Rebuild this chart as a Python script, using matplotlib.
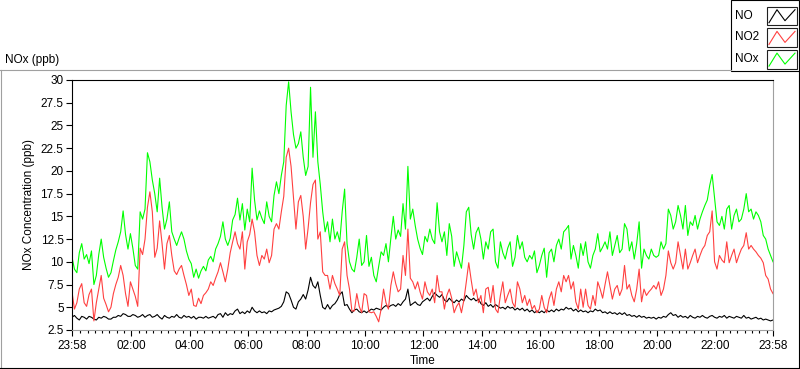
import numpy as np
import matplotlib.pyplot as plt
from matplotlib.lines import Line2D
from matplotlib.patches import Rectangle

plt.rcParams['font.family'] = ['Liberation Sans', 'DejaVu Sans']

# minutes after 23:58, one reading every 5 min
minutes = np.arange(0, 1441, 5)

no_ppb = [
    3.9, 4.1, 3.8, 3.6, 4.0, 3.9, 3.7, 4.0, 3.9, 3.7, 3.6, 3.9, 3.8, 4.0, 3.9, 3.7, 3.7, 3.9, 3.9, 4.1, 4.0, 4.3, 4.2, 4.0, 4.0,
    4.2, 4.1, 3.9, 4.0, 4.2, 3.9, 4.1, 4.2, 3.9, 4.0, 4.2, 3.9, 3.7, 4.1, 3.9, 3.8, 4.0, 3.9, 4.2, 3.9, 3.8, 4.1, 3.9, 4.0,
    3.8, 4.0, 3.7, 3.9, 3.9, 3.8, 4.0, 3.8, 3.9, 4.0, 3.8, 4.2, 4.3, 3.9, 4.4, 4.1, 4.3, 4.2, 4.6, 4.8, 4.3, 4.5, 4.3, 4.6,
    4.4, 5.0, 4.6, 4.4, 4.6, 4.4, 4.5, 4.3, 4.6, 4.5, 4.7, 4.8, 4.9, 5.1, 5.6, 6.7, 6.5, 5.8, 5.0, 4.8, 5.6, 5.9, 6.4, 5.9,
    6.9, 8.3, 7.4, 7.1, 7.8, 6.3, 5.0, 4.8, 5.3, 4.8, 5.2, 5.4, 5.8, 6.4, 6.7, 5.2, 5.3, 4.8, 4.4, 4.7, 4.8, 4.5, 4.4, 4.6,
    4.4, 4.6, 4.8, 4.7, 4.9, 4.8, 4.7, 5.0, 5.2, 5.0, 5.2, 5.3, 5.1, 5.4, 5.2, 5.6, 5.9, 7.0, 5.2, 5.4, 5.6, 5.3, 5.2, 5.6,
    5.8, 6.0, 5.7, 6.2, 6.6, 6.3, 6.1, 6.4, 5.8, 5.6, 6.0, 5.7, 5.5, 5.8, 5.6, 5.9, 5.7, 6.3, 6.0, 5.8, 6.0, 5.7, 5.9, 5.4,
    5.2, 5.5, 5.1, 5.3, 5.0, 5.3, 5.1, 4.9, 5.0, 4.8, 5.1, 4.9, 5.0, 4.7, 4.9, 4.7, 4.9, 4.6, 4.8, 4.5, 4.7, 4.4, 4.6, 4.4,
    4.6, 4.4, 4.7, 4.5, 4.7, 4.5, 4.8, 4.6, 4.8, 4.7, 5.0, 4.8, 4.9, 4.6, 4.8, 4.5, 4.7, 4.5, 4.6, 4.4, 4.6, 4.5, 4.8, 4.6,
    4.7, 4.4, 4.5, 4.3, 4.5, 4.3, 4.4, 4.2, 4.4, 4.2, 4.4, 4.1, 4.2, 4.0, 4.1, 3.9, 4.1, 3.9, 4.0, 3.8, 3.9, 3.8, 3.9, 3.7,
    3.9, 3.8, 4.0, 3.9, 4.2, 4.4, 4.1, 4.2, 3.9, 4.1, 3.9, 4.0, 3.8, 4.1, 3.9, 3.8, 4.0, 3.9, 4.1, 3.9, 3.8, 4.0, 4.1, 3.9,
    3.8, 4.0, 3.9, 4.1, 3.8, 4.0, 3.9, 3.8, 4.0, 3.9, 3.8, 4.1, 3.8, 3.9, 3.7, 3.8, 3.9, 3.7, 3.8, 3.6, 3.7, 3.6, 3.5, 3.6,
]

no2_ppb = [
    6.7, 4.8, 5.5, 7.0, 7.6, 5.5, 5.1, 6.4, 7.0, 3.5, 5.5, 7.0, 8.5, 6.0, 5.3, 4.5, 5.0, 6.5, 7.5, 8.3, 9.6, 8.5, 6.5, 5.1, 7.8,
    7.0, 6.2, 5.1, 11.5, 10.8, 12.5, 16.0, 17.7, 15.5, 10.5, 11.5, 14.5, 12.0, 9.2, 12.0, 12.9, 10.7, 9.0, 8.6, 9.2, 9.6, 8.5, 7.5, 6.3,
    7.0, 5.2, 5.1, 6.0, 5.4, 6.3, 6.6, 7.0, 7.8, 7.4, 8.2, 8.9, 9.9, 8.9, 7.8, 9.2, 11.0, 12.2, 13.3, 12.0, 11.4, 13.3, 9.2, 12.2,
    13.0, 14.7, 13.3, 10.7, 9.6, 10.7, 10.3, 11.4, 9.9, 10.7, 13.6, 14.2, 13.6, 15.5, 17.2, 21.5, 22.5, 20.5, 17.0, 13.6, 16.6, 17.3, 15.0, 11.4,
    13.7, 16.5, 18.5, 19.0, 12.5, 13.3, 8.9, 8.5, 8.5, 7.0, 8.5, 7.6, 7.0, 6.3, 11.4, 12.2, 8.5, 7.0, 4.6, 4.6, 6.5, 5.1, 4.4, 6.5,
    6.3, 4.5, 4.4, 4.5, 4.0, 3.4, 4.8, 7.0, 5.5, 4.8, 7.4, 8.9, 7.6, 6.7, 7.0, 10.7, 8.5, 13.6, 8.2, 7.8, 7.0, 7.8, 6.7, 5.9,
    7.8, 6.7, 6.3, 7.0, 5.5, 8.5, 6.7, 6.7, 4.8, 6.3, 7.0, 6.0, 4.4, 5.1, 5.5, 4.4, 5.8, 7.8, 9.9, 8.0, 6.3, 7.0, 5.5, 6.3,
    4.4, 7.0, 7.2, 5.5, 7.4, 4.8, 4.4, 6.3, 7.8, 5.5, 6.3, 7.0, 5.5, 5.0, 7.8, 7.0, 5.5, 6.3, 5.2, 5.9, 4.8, 5.2, 4.4, 4.8,
    6.3, 5.0, 4.4, 5.9, 6.7, 5.2, 7.0, 7.8, 6.7, 8.5, 7.8, 8.5, 7.0, 7.8, 5.6, 4.8, 7.0, 5.0, 7.0, 5.2, 4.8, 6.3, 5.2, 7.8,
    7.0, 6.0, 7.5, 8.9, 7.4, 5.9, 7.0, 7.4, 6.3, 7.0, 9.6, 7.0, 7.5, 6.3, 5.6, 7.0, 9.2, 5.6, 7.0, 6.3, 6.7, 7.0, 7.4, 7.0,
    7.8, 6.3, 7.0, 8.5, 11.2, 9.9, 9.2, 9.9, 12.2, 10.7, 9.2, 11.4, 9.2, 9.9, 10.7, 11.4, 9.9, 10.7, 11.4, 11.8, 12.9, 13.3, 15.6, 10.0,
    9.2, 10.7, 10.2, 9.9, 12.2, 9.9, 10.7, 11.4, 9.9, 10.7, 11.4, 11.8, 13.2, 11.4, 11.8, 11.4, 11.1, 10.7, 10.4, 9.9, 8.5, 8.1, 7.0, 6.5,
]

nox_ppb = [
    10.5, 9.2, 8.8, 11.0, 12.0, 10.3, 10.8, 9.8, 11.2, 7.5, 8.5, 10.8, 12.5, 10.5, 9.3, 8.3, 8.8, 10.1, 11.3, 12.2, 13.3, 15.6, 13.0, 11.4, 13.1,
    11.5, 9.6, 9.2, 15.5, 14.7, 15.8, 22.0, 21.0, 19.0, 17.5, 15.5, 19.2, 16.0, 13.6, 14.7, 16.6, 13.3, 12.5, 11.8, 12.6, 13.3, 12.5, 11.2, 10.3,
    9.8, 8.3, 9.2, 8.2, 9.0, 9.5, 9.0, 10.2, 10.6, 10.0, 11.4, 12.0, 12.8, 14.4, 12.5, 11.8, 12.6, 14.6, 15.2, 17.0, 14.6, 16.4, 13.5, 15.8,
    14.4, 20.3, 16.8, 14.6, 15.6, 14.8, 14.2, 16.6, 15.0, 14.4, 17.3, 18.8, 17.5, 19.5, 21.0, 27.2, 29.8, 26.5, 24.0, 22.5, 23.0, 24.3, 21.5, 19.5,
    20.5, 29.2, 21.5, 26.5, 21.0, 18.5, 15.5, 13.3, 14.4, 12.2, 14.7, 12.5, 13.3, 12.2, 15.5, 18.0, 12.0, 10.0, 9.2, 8.9, 10.5, 12.5, 9.6, 10.0,
    12.9, 9.5, 10.5, 8.5, 7.8, 9.5, 11.1, 10.7, 12.0, 10.0, 12.6, 15.0, 12.5, 13.5, 12.8, 16.4, 13.6, 20.5, 14.7, 15.8, 14.0, 12.5, 11.5, 10.8,
    12.8, 12.2, 13.6, 12.5, 12.0, 16.5, 13.3, 12.2, 13.3, 10.7, 14.2, 12.8, 9.5, 11.1, 10.2, 9.3, 11.8, 15.5, 16.0, 13.0, 11.4, 13.2, 13.8, 12.5,
    10.3, 12.2, 11.4, 13.3, 13.6, 10.0, 9.3, 12.2, 11.0, 10.3, 11.5, 12.2, 9.5, 10.5, 12.9, 11.4, 12.2, 10.5, 10.0, 10.7, 10.3, 11.2, 8.8, 9.6,
    10.7, 11.5, 8.3, 11.0, 11.4, 10.0, 11.8, 12.5, 11.4, 13.3, 13.6, 14.0, 10.3, 11.8, 10.7, 9.3, 12.0, 10.7, 12.2, 10.0, 9.3, 10.7, 11.4, 13.1,
    11.1, 11.6, 12.2, 11.4, 13.3, 10.7, 11.8, 12.9, 11.0, 11.4, 14.2, 13.6, 11.2, 12.2, 10.3, 12.0, 14.4, 9.3, 11.4, 10.7, 10.3, 11.4, 10.7, 10.5,
    10.7, 12.2, 11.4, 12.0, 15.8, 15.1, 13.6, 14.4, 16.2, 15.1, 13.6, 16.2, 12.9, 14.4, 14.0, 15.1, 13.6, 14.7, 15.5, 16.2, 16.8, 18.4, 19.6, 17.0,
    14.4, 14.0, 15.0, 13.6, 15.8, 16.2, 13.6, 15.1, 15.8, 14.4, 14.7, 15.8, 17.5, 15.5, 15.8, 14.7, 15.5, 15.1, 14.4, 12.9, 12.5, 11.4, 10.7, 10.0,
]

tick_minutes = [0, 122, 242, 362, 482, 602, 722, 842, 962, 1082, 1202, 1322, 1440]
tick_labels = ['23:58', '02:00', '04:00', '06:00', '08:00', '10:00', '12:00',
               '14:00', '16:00', '18:00', '20:00', '22:00', '23:58']
series_names = ['NO', 'NO2', 'NOx']
series_colors = ['black', '#ff4040', '#00ff00']

W, H = 800, 369
fig = plt.figure(figsize=(W / 100, H / 100), dpi=100)


def fpx(x, y):
    # pixel position -> figure fraction
    return x / W, 1 - y / H


ax = fig.add_axes([72 / W, 1 - 330 / H, 701 / W, 250 / H])
for vals, col in zip([no_ppb, no2_ppb, nox_ppb], series_colors):
    ax.plot(minutes, vals, color=col, lw=0.8)

ax.set_xlim(0, 1440)
ax.set_ylim(2.5, 30)
ax.set_yticks(np.arange(2.5, 30.1, 2.5))
ax.set_yticklabels(['%g' % v for v in np.arange(2.5, 30.1, 2.5)])
ax.set_xticks(tick_minutes)
ax.set_xticklabels(tick_labels)
ax.set_xticks(np.arange(17, 1437, 15), minor=True)
ax.tick_params(axis='both', which='major', labelsize=8.5, length=4, width=0.8, color='black', pad=2)
ax.tick_params(axis='x', which='minor', length=2, width=0.8, color='black')
ax.tick_params(axis='x', which='major', pad=3)
for side in ['top', 'left']:
    ax.spines[side].set_color('black')
    ax.spines[side].set_linewidth(0.8)
for side in ['right', 'bottom']:
    ax.spines[side].set_color('#a0a0a0')
    ax.spines[side].set_linewidth(0.8)

ax.set_ylabel('NOx Concentration (ppb)', fontsize=8.5, labelpad=4)
ax.set_xlabel('Time', fontsize=8.5, labelpad=2)
fig.text(*fpx(5, 60), 'NOx (ppb)', fontsize=8.5, va='center', ha='left')

# outer frame
fig.add_artist(Line2D([0, 731 / W], [1 - 69.5 / H] * 2, color='#a0a0a0', lw=0.8))
fig.add_artist(Line2D([0.5 / W] * 2, [1 - 69.5 / H, 0], color='#a0a0a0', lw=0.8))
fig.add_artist(Line2D([0, 1], [1 - 367.5 / H] * 2, color='black', lw=0.8))
fig.add_artist(Line2D([798.5 / W] * 2, [1 - 71 / H, 1 - 367.5 / H], color='black', lw=0.8))

# legend panel
fig.add_artist(Rectangle(fpx(731, 71), 68 / W, 71 / H, fill=False, ec='black', lw=0.8))
for i, (name, col) in enumerate(zip(series_names, series_colors)):
    y0 = 6.7 + 21.7 * i
    fig.text(*fpx(735, y0 + 9), name, fontsize=8.5, va='center', ha='left')
    fig.add_artist(Rectangle(fpx(767, y0 + 18.5), 30 / W, 18.5 / H, fill=False, ec='#202020', lw=0.8))
    zx = [769, 777, 785, 795]
    zy = [y0 + 16, y0 + 3, y0 + 14, y0 + 3]
    fig.add_artist(Line2D([x / W for x in zx], [1 - y / H for y in zy], color=col, lw=0.8))

fig.savefig('out.png', dpi=100)
